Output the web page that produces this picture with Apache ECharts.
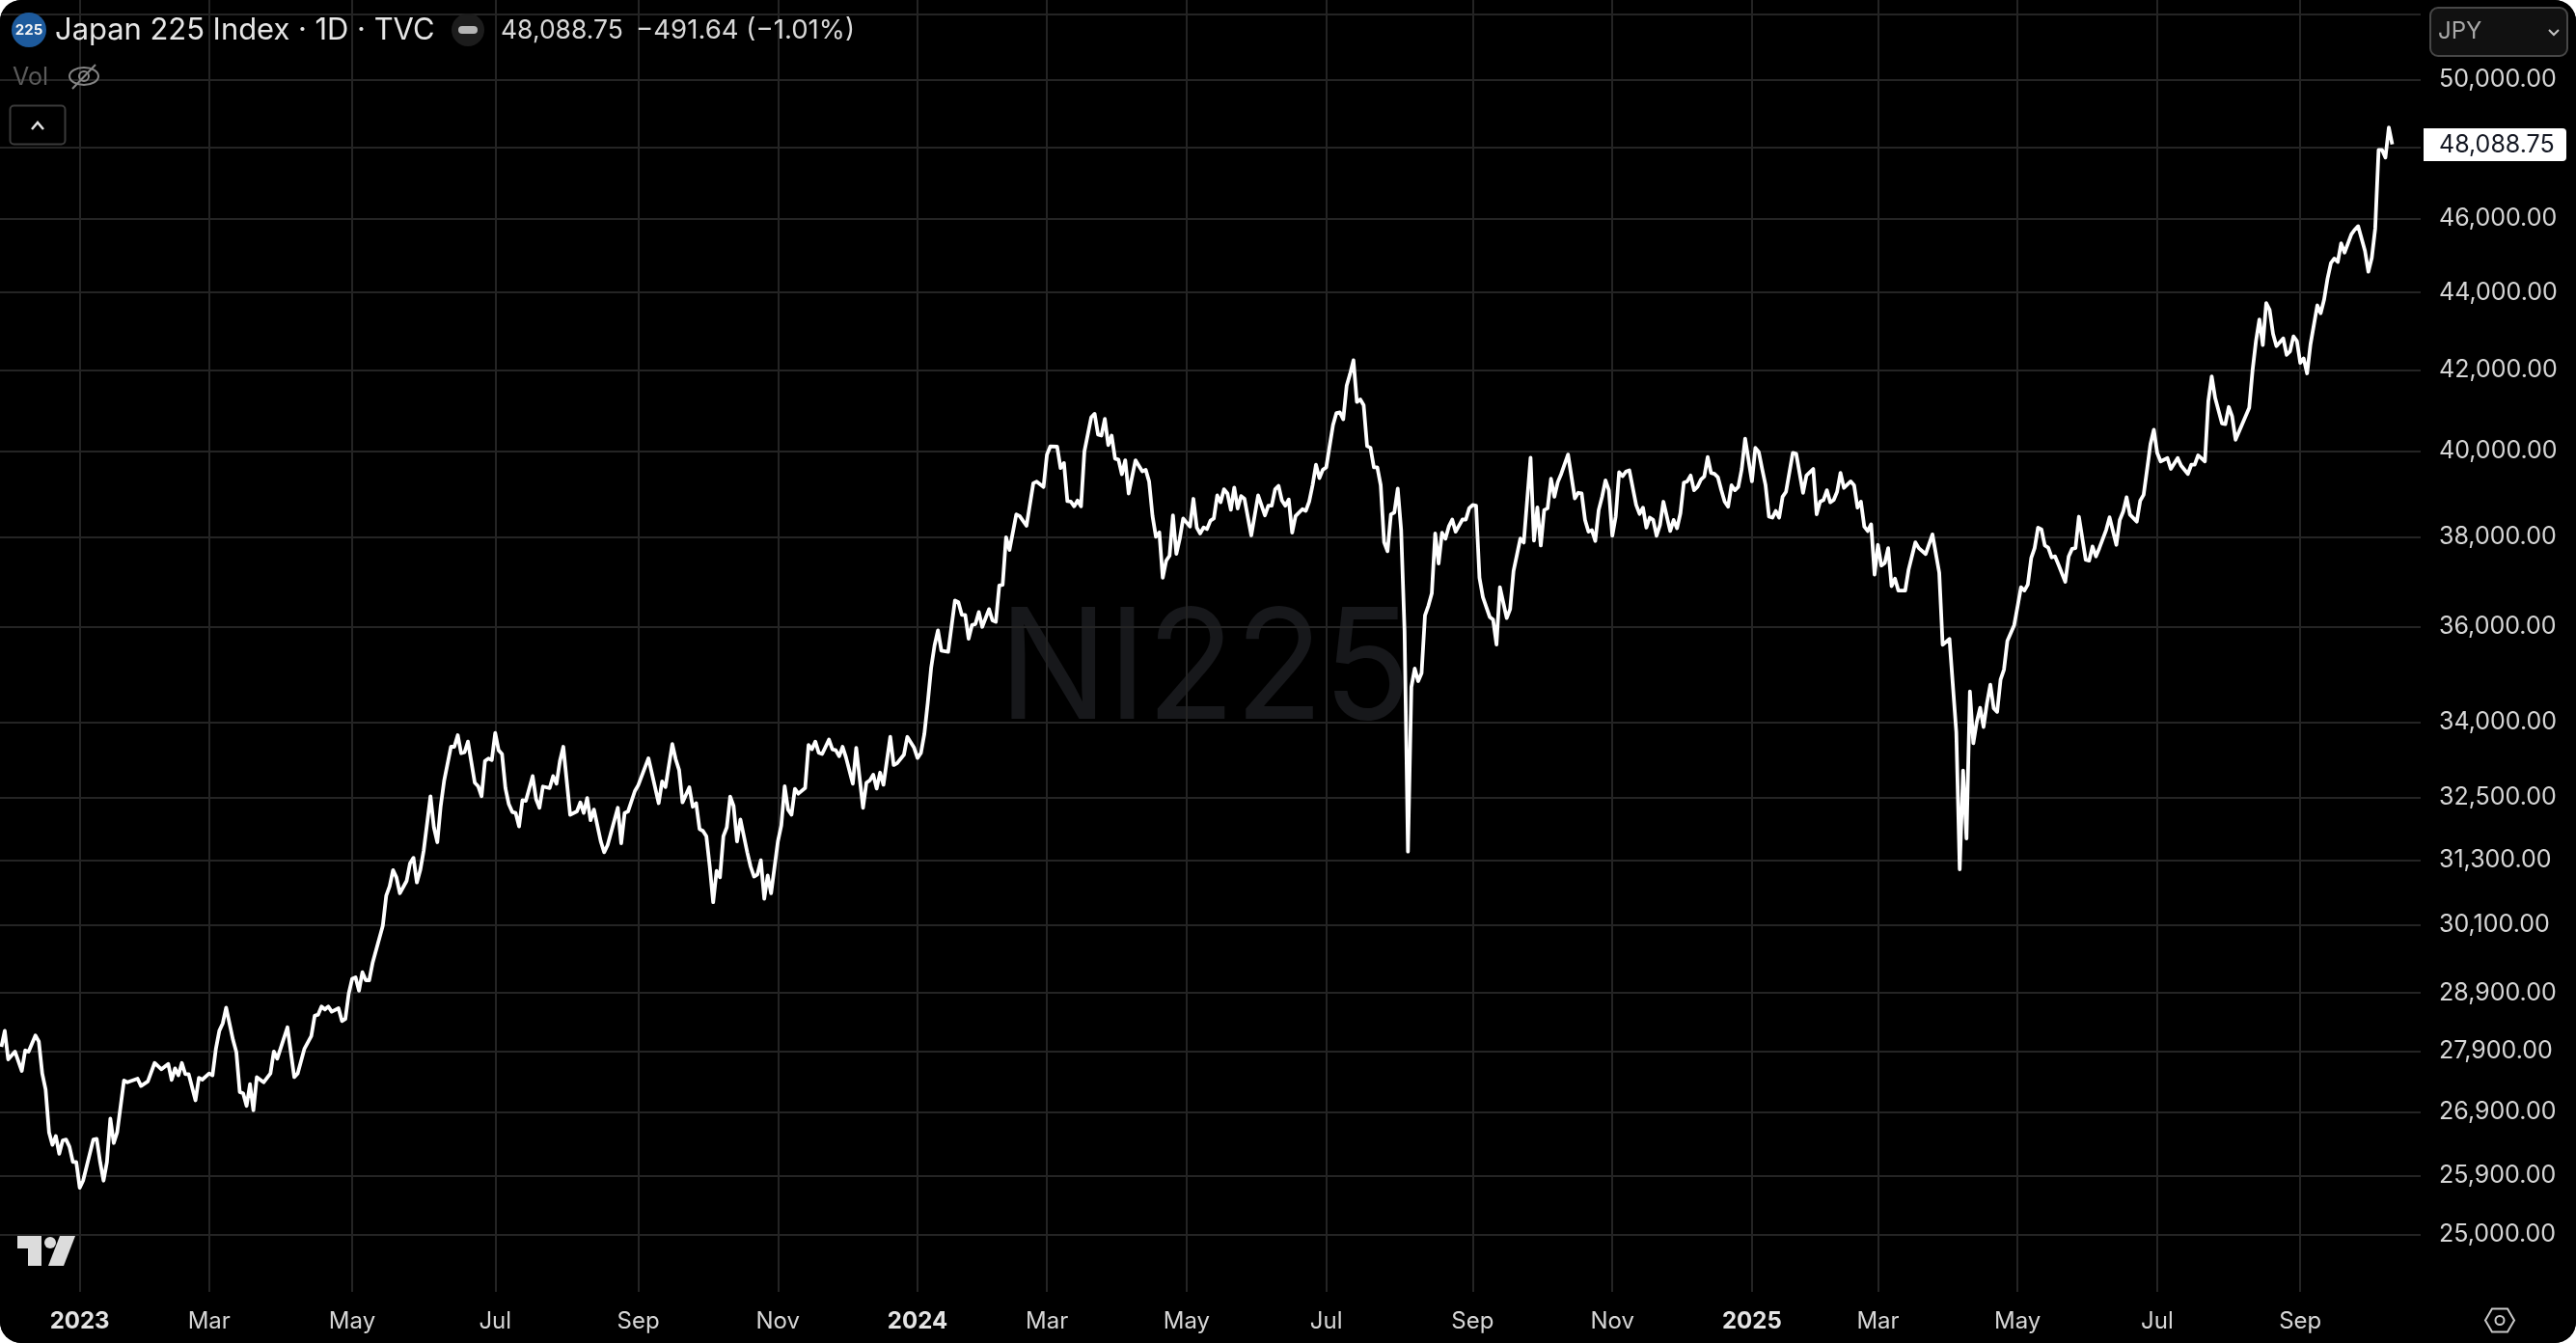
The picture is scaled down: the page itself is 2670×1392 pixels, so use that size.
<!DOCTYPE html>
<html><head><meta charset="utf-8">
<style>html,body{margin:0;padding:0;background:#fff;width:2670px;height:1392px;overflow:hidden}
#c{width:2670px;height:1392px;border-radius:22px;overflow:hidden;background:#000}</style>
<script src="https://cdn.jsdelivr.net/npm/echarts@6/dist/echarts.min.js"></script>
</head><body><div id="c"></div>
<script>
// [trading-bar number, close]
const closes2023 = [[0,27980],[1,28250],[2,27770],[4,27900],[6,27577],[7,27920],[8,27900],[10,28170],[11,28070],[12,27535],[13,27270],[14,26580],[15,26380],[16,26520],[17,26240],[18,26450],[19,26465],[20,26350],[21,26110],[22,26110],[23,25710],[24,25820],[27,26465],[28,26475],[29,26110],[30,25820],[31,26110],[32,26800],[33,26410],[34,26580],[36,27420],[37,27390],[40,27450],[41,27330],[43,27405],[45,27710],[47,27605],[49,27695],[50,27430],[51,27620],[52,27505],[53,27710],[54,27525],[55,27525],[57,27095],[58,27465],[59,27435],[61,27535],[62,27505],[63,27950],[64,28250],[65,28375],[66,28645],[68,28100],[69,27890],[70,27230],[71,27210],[72,27005],[73,27360],[74,26935],[75,27475],[77,27390],[79,27535],[80,27900],[81,27780],[84,28310],[86,27475],[87,27535],[89,27950],[91,28160],[92,28505],[93,28525],[94,28665],[95,28615],[96,28665],[97,28575],[99,28635],[100,28415],[101,28450],[102,28890],[103,29145],[104,29170],[105,28937],[106,29260],[107,29120],[108,29120],[109,29425],[112,30090],[113,30635],[114,30810],[115,31110],[116,30975],[117,30680],[119,30910],[120,31240],[121,31340],[122,30880],[123,31110],[124,31475],[126,32520],[127,31920],[128,31635],[129,32330],[130,32820],[132,33500],[133,33500],[134,33735],[135,33370],[136,33390],[137,33605],[139,32785],[140,32715],[141,32520],[142,33215],[143,33265],[144,33235],[145,33780],[146,33430],[147,33355],[148,32680],[149,32365],[150,32215],[151,32195],[152,31935],[153,32445],[154,32430],[156,32915],[157,32465],[158,32295],[159,32710],[161,32680],[162,32915],[163,32765],[164,33215],[165,33500],[167,32160],[169,32225],[170,32400],[171,32195],[172,32485],[173,32055],[174,32260],[176,31650],[177,31445],[178,31580],[181,32295],[182,31615],[183,32195],[184,32225],[186,32620],[187,32735],[190,33270],[193,32385],[194,32810],[195,32700],[197,33555],[198,33250],[199,33035],[200,32400],[202,32695],[203,32315],[204,32385],[205,31885],[206,31850],[207,31750],[208,31175],[209,30515],[210,31095],[211,30975],[212,31750],[213,31920],[214,32515],[215,32330],[216,31650],[217,32070],[219,31445],[220,31175],[221,30990],[222,31030],[223,31295],[224,30580],[225,31010],[226,30680],[228,31650],[229,31955],[230,32715],[231,32260],[232,32160],[233,32665],[234,32570],[236,32680],[237,33535],[238,33450],[239,33605],[240,33380],[241,33355],[243,33645],[244,33450],[245,33430],[246,33310],[247,33500],[248,33285],[250,32765],[251,33480],[253,32295],[254,32785],[255,32830],[256,32945],[257,32670],[258,32985],[259,32745],[261,33700],[262,33135],[263,33170],[265,33340],[266,33700],[268,33480]];
const closes2024 = [[269,33275],[270,33375],[271,33755],[272,34395],[273,35125],[274,35600],[275,35925],[276,35490],[278,35465],[280,36575],[281,36535],[282,36260],[283,36260],[284,35745],[285,36040],[286,36060],[287,36320],[288,36000],[290,36385],[291,36140],[292,36110],[293,36905],[294,36920],[295,37990],[296,37700],[298,38515],[299,38475],[301,38250],[303,39240],[304,39280],[306,39155],[307,39920],[308,40120],[310,40110],[311,39600],[312,39720],[313,38820],[314,38810],[315,38700],[316,38835],[317,38700],[318,40000],[320,40825],[321,40910],[322,40405],[323,40380],[324,40785],[325,40150],[326,40380],[327,39825],[328,39800],[329,39455],[330,39785],[331,39000],[333,39785],[335,39520],[336,39560],[337,39280],[338,38475],[339,38000],[340,38100],[341,37075],[342,37455],[343,37570],[344,38490],[345,37610],[346,37955],[347,38420],[349,38235],[350,38875],[351,38210],[352,38075],[353,38215],[354,38175],[355,38370],[356,38420],[357,38955],[358,38795],[359,39100],[360,39000],[361,38620],[362,39140],[363,38650],[364,38940],[365,38875],[367,38030],[369,38955],[371,38490],[372,38715],[373,38715],[374,39100],[375,39180],[376,38835],[377,38715],[378,38860],[379,38095],[380,38475],[382,38635],[383,38595],[384,38810],[385,39195],[386,39680],[387,39360],[388,39560],[389,39615],[390,40125],[391,40635],[392,40930],[393,40945],[394,40775],[395,41605],[396,41900],[397,42245],[398,41200],[399,41265],[400,41120],[401,40125],[402,40085],[403,39615],[404,39615],[405,39195],[406,37875],[407,37670],[408,38515],[409,38555],[410,39115],[411,38155],[412,35909],[413,31457],[414,34723],[415,35110],[416,34847],[417,35015],[418,36246],[419,36460],[420,36730],[421,38075],[422,37395],[423,38090],[424,37955],[425,38235],[426,38395],[427,38115],[429,38395],[430,38395],[431,38660],[432,38730],[433,38715],[434,37075],[435,36650],[437,36215],[438,36155],[439,35620],[440,36865],[442,36190],[443,36385],[444,37225],[446,37960],[447,37867],[449,39846],[450,37911],[451,38677],[452,37800],[453,38615],[454,38654],[455,39346],[456,38923],[457,39269],[458,39462],[460,39923],[462,38885],[463,39016],[464,39000],[465,38385],[466,38116],[467,38154],[468,37904],[469,38615],[470,38923],[471,39308],[472,39077],[473,38023],[474,38462],[475,39500],[476,39408],[477,39516],[478,39546],[480,38731],[481,38524],[482,38670],[483,38208],[484,38439],[485,38385],[486,38023],[487,38270],[488,38808],[490,38131],[491,38385],[492,38193],[493,38539],[494,39254],[495,39285],[496,39423],[497,39077],[498,39154],[499,39323],[500,39400],[501,39862],[502,39485],[503,39462],[504,39385],[505,39077],[506,38808],[507,38693],[508,39193],[509,39077],[510,39154],[511,39577],[512,40305]];
const closes2025 = [[514,39285],[515,40082],[516,39985],[517,39577],[518,39193],[519,38462],[520,38439],[521,38593],[522,38439],[523,38923],[524,39039],[526,39962],[527,39938],[529,39016],[530,39423],[532,39577],[533,38516],[534,38808],[535,38847],[536,39077],[537,38793],[538,38847],[539,39039],[540,39485],[541,39131],[543,39285],[544,39193],[545,38670],[546,38808],[547,38231],[548,38131],[549,38285],[550,37148],[551,37815],[552,37348],[553,37407],[554,37741],[555,36889],[556,37059],[557,36792],[559,36792],[560,37259],[562,37874],[563,37741],[565,37607],[567,38054],[569,37185],[570,35614],[572,35740],[574,33802],[575,31124],[576,33028],[577,31704],[578,34631],[579,33570],[580,34000],[581,34294],[582,33900],[583,34385],[584,34771],[585,34280],[586,34210],[587,34877],[588,35087],[589,35698],[591,36037],[592,36445],[593,36867],[594,36793],[595,36926],[596,37518],[597,37741],[598,38208],[599,38169],[600,37800],[601,37755],[602,37533],[603,37555],[604,37370],[606,36985],[607,37555],[608,37726],[609,37741],[610,38461],[612,37481],[613,37459],[614,37778],[615,37555],[616,37741],[618,38154],[619,38446],[621,37815],[622,38385],[623,38577],[624,38912],[625,38508],[627,38347],[628,38831],[629,38968],[630,39557],[631,40169],[632,40523],[633,39960],[634,39758],[636,39839],[637,39581],[639,39839],[640,39661],[642,39460],[643,39678],[644,39678],[645,39903],[647,39758],[648,41224],[649,41840],[650,41308],[652,40675],[653,40658],[654,41080],[655,40844],[656,40278],[660,41055],[661,42000],[662,42741],[663,43295],[664,42634],[665,43723],[666,43545],[667,42920],[668,42607],[670,42804],[671,42384],[672,42473],[673,42857],[674,42741],[675,42179],[676,42295],[677,41916],[678,42652],[680,43661],[681,43456],[682,43813],[683,44365],[684,44785],[685,44907],[686,44813],[687,45318],[688,45066],[690,45561],[691,45692],[692,45786],[694,45113],[695,44552],[696,44926],[697,45720],[698,47932],[699,47932],[700,47710],[701,48580.39],[702,48088.75]];
const tickBars = [23,61,103,145,187,228,269,307,348,389,432,473,514,551,592,633,675];
const tickLabels = ['2023','Mar','May','Jul','Sep','Nov','2024','Mar','May','Jul','Sep','Nov','2025','Mar','May','Jul','Sep'];
const gridPrices = [52000,50000,48000,46000,44000,42000,40000,38000,36000,34000,32500,31300,30100,28900,27900,26900,25900,25000];
const labelPrices = [50000,48000,46000,44000,42000,40000,38000,36000,34000,32500,31300,30100,28900,27900,26900,25900,25000];
const lastClose = 48088.75, lastChange = '\u2212491.64 (\u22121.01%)';

const FONT = 'Inter, "Noto Sans", sans-serif';
const money = v => v.toLocaleString('en-US',{minimumFractionDigits:2,maximumFractionDigits:2});
const gridCol = '#242424', txt = '#d6d6d6';
const chart = echarts.init(document.getElementById('c'), null, {renderer:'canvas'});
const T = (x,y,text,size,fill,extra) => ({type:'text',x,y,silent:true,z:50,style:Object.assign({text,fontFamily:FONT,fontSize:size,fill,verticalAlign:'middle'},extra||{})});
const stroke = (c,w) => ({fill:'none',stroke:c,lineWidth:w});
chart.setOption({
  animation:false,
  backgroundColor:'#000',
  grid:{left:0,right:161,top:0,bottom:53,containLabel:false},
  xAxis:{type:'value',min:-0.4,max:710.35,
    axisLine:{show:false},
    axisTick:{show:false,customValues:tickBars},
    splitLine:{show:true,lineStyle:{color:gridCol,width:2}},
    axisLabel:{customValues:tickBars,margin:19,fontFamily:FONT,fontSize:24,color:txt,hideOverlap:false,
      formatter:v=>{const s=tickLabels[tickBars.indexOf(v)];return /^\d/.test(s)?'{y|'+s+'}':s;},
      rich:{y:{fontFamily:FONT,fontSize:24,fontWeight:700,color:'#e4e4e4'}}}},
  yAxis:{type:'log',logBase:10,position:'right',min:24153,max:52443,
    axisLine:{show:false},
    axisTick:{show:false,customValues:gridPrices},
    splitLine:{show:true,lineStyle:{color:gridCol,width:2}},
    axisLabel:{customValues:labelPrices,margin:19,fontFamily:FONT,fontSize:25,color:txt,formatter:money}},
  series:[{type:'line',data:closes2023.concat(closes2024,closes2025),showSymbol:false,symbol:'none',
    lineStyle:{color:'#fff',width:3.8,join:'round'},silent:true,z:5}],
  graphic:[
    // watermark
    {type:'text',x:1249,y:697,scaleY:1.06,silent:true,z:-1,zlevel:-1,style:{text:'NI225',fontFamily:FONT,fontSize:150,fontWeight:400,fill:'#17181b',align:'center',verticalAlign:'middle'}},
    // header
    {type:'circle',shape:{cx:30,cy:31,r:18},style:{fill:'#1d5a9c'},silent:true,z:50},
    T(30,31,'225',15,'#f4f4f4',{align:'center',fontWeight:700}),
    T(57,32,'Japan 225 Index \u00b7 1D \u00b7 TVC',30.9,'#e6e6e6'),
    {type:'circle',shape:{cx:485,cy:31,r:17},style:{fill:'#1c1c1c'},silent:true,z:50},
    {type:'rect',shape:{x:475,y:27,width:20,height:8,r:4},style:{fill:'#b4b4b4'},silent:true,z:50},
    T(519,32,money(lastClose),26.5,'#d8d8d8'),
    T(659,32,lastChange,27.6,'#d8d8d8'),
    T(13,80,'Vol',25,'#5a5a5a'),
    {type:'ellipse',shape:{cx:87,cy:79,rx:15,ry:9},style:stroke('#858585',2),silent:true,z:50},
    {type:'circle',shape:{cx:87,cy:79,r:5},style:stroke('#858585',2),silent:true,z:50},
    {type:'line',shape:{x1:75,y1:92,x2:99,y2:67},style:{stroke:'#858585',lineWidth:2},silent:true,z:50},
    {type:'rect',shape:{x:10.5,y:109.5,width:57,height:40,r:4},style:{fill:'#000',stroke:'#3a3a3a',lineWidth:2},silent:true,z:50},
    {type:'polyline',shape:{points:[[33,134],[39,127],[45,134]]},style:stroke('#e4e4e4',2.5),silent:true,z:50},
    // currency button
    {type:'rect',shape:{x:2519,y:8,width:142,height:50,r:8},style:{fill:'#111',stroke:'#474747',lineWidth:2},silent:true,z:50},
    T(2527,33,'JPY',24,'#a8a8a8'),
    {type:'polyline',shape:{points:[[2642,31],[2647,36],[2652,31]]},style:stroke('#c4c4c4',2),silent:true,z:50},
    // last price badge
    {type:'rect',shape:{x:2512,y:133,width:148,height:34,r:[0,4,4,0]},style:{fill:'#fff'},silent:true,z:50},
    T(2528,150,money(lastClose),25,'#131722'),
    // logo
    {type:'polygon',shape:{points:[[18,1281],[43,1281],[43,1312],[29,1312],[29,1294],[18,1294]]},style:{fill:'#dcdcdc'},silent:true,z:50},
    {type:'circle',shape:{cx:52,cy:1288,r:6},style:{fill:'#dcdcdc'},silent:true,z:50},
    {type:'polygon',shape:{points:[[62,1281],[78,1281],[66,1312],[50,1312]]},style:{fill:'#dcdcdc'},silent:true,z:50},
    // settings icon
    {type:'polygon',shape:{points:[[2576,1368.5],[2583,1356.5],[2599,1356.5],[2606,1368.5],[2599,1380.5],[2583,1380.5]]},style:stroke('#c8c8c8',2),silent:true,z:50},
    {type:'circle',shape:{cx:2591,cy:1368.5,r:4.5},style:stroke('#c8c8c8',2),silent:true,z:50}
  ]
});
</script></body></html>
